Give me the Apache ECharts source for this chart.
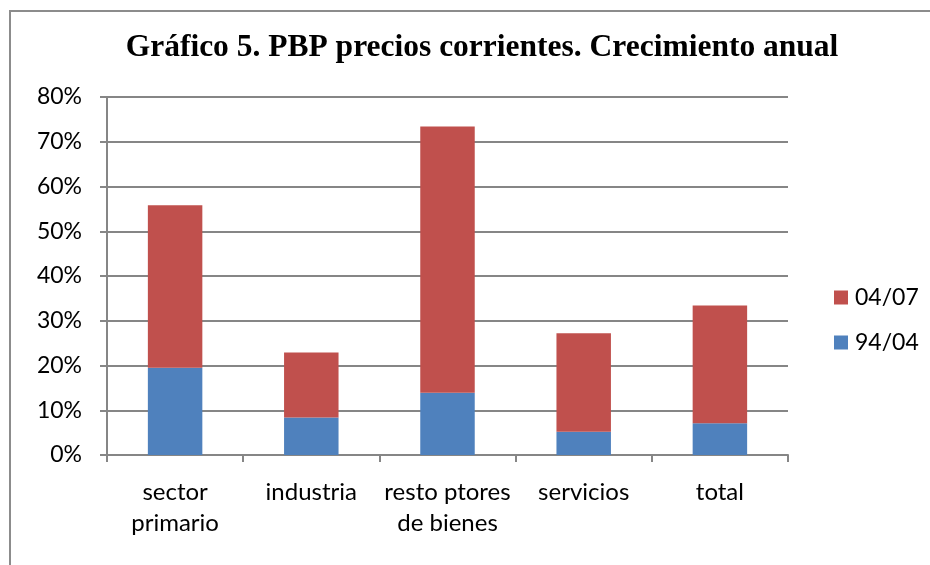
<!DOCTYPE html>
<html><head><meta charset="utf-8">
<script src="https://cdn.jsdelivr.net/npm/echarts@6/dist/echarts.min.js"></script>
<style>html,body{margin:0;padding:0;background:#fff}#c{width:930px;height:565px}</style>
</head><body><div id="c"></div>
<script>
const categories = ['sector\nprimario', 'industria', 'resto ptores\nde bienes', 'servicios', 'total'];
const s9404 = [19.5, 8.4, 13.9, 5.2, 7.1];
const s0407 = [36.3, 14.5, 59.5, 22.0, 26.3];
const yTicks = [0, 10, 20, 30, 40, 50, 60, 70, 80];

const chart = echarts.init(document.getElementById('c'));
const font = 'Lato, "Liberation Sans", sans-serif';
chart.setOption({
  animation: false,
  backgroundColor: '#fff',
  graphic: [{
    type: 'rect', shape: {x: 10, y: 11, width: 940, height: 580},
    style: {fill: 'none', stroke: '#8c8c8c', lineWidth: 2}, silent: true
  }],
  title: {
    text: 'Gráfico 5. PBP precios corrientes. Crecimiento anual',
    left: 477, textAlign: 'center', top: 27,
    textStyle: {fontFamily: '"Liberation Serif", "DejaVu Serif", serif', fontWeight: 'bold', fontSize: 31.5, color: '#000'}
  },
  legend: {
    orient: 'vertical', left: 829, top: 281, itemWidth: 14, itemHeight: 14, itemGap: 22,
    icon: 'rect', data: ['04/07', '94/04'],
    textStyle: {fontFamily: font, fontSize: 23, color: '#000', padding: [0, 0, 0, 2]}
  },
  grid: {left: 107, top: 97, right: 142, bottom: 110},
  xAxis: {
    type: 'category', data: categories,
    axisLine: {lineStyle: {color: '#868686', width: 2}},
    axisTick: {show: true, length: 7, lineStyle: {color: '#868686', width: 2}},
    axisLabel: {fontFamily: font, fontSize: 24, color: '#000', margin: 22, lineHeight: 31, interval: 0}
  },
  yAxis: {
    type: 'value', min: 0, max: 80, interval: 10,
    axisLine: {show: true, lineStyle: {color: '#868686', width: 2}},
    axisTick: {show: true, length: 7, lineStyle: {color: '#868686', width: 2}},
    splitLine: {lineStyle: {color: '#868686', width: 2}},
    axisLabel: {fontFamily: font, fontSize: 23, color: '#000', margin: 25,
      formatter: v => yTicks.includes(v) ? v + '%' : ''}
  },
  series: [
    {name: '94/04', type: 'bar', stack: 'a', data: s9404, barWidth: '40%', itemStyle: {color: '#4F81BD'}},
    {name: '04/07', type: 'bar', stack: 'a', data: s0407, barWidth: '40%', itemStyle: {color: '#C0504D'}}
  ]
});
</script></body></html>
